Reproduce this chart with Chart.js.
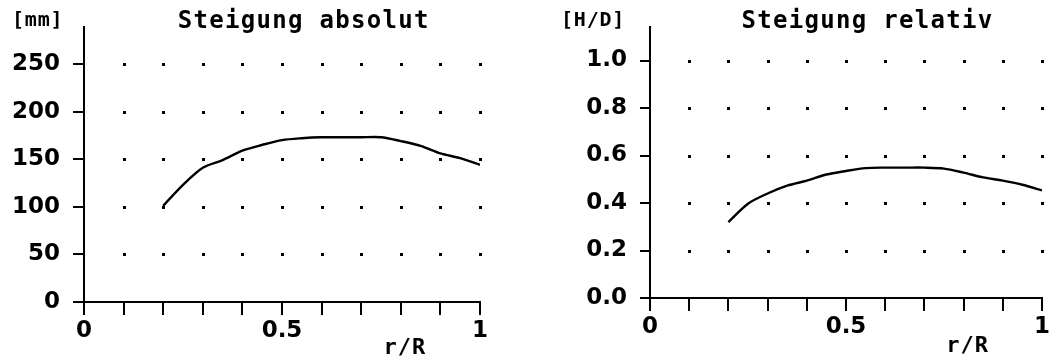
<!DOCTYPE html>
<html>
<head>
<meta charset="utf-8">
<script src="https://cdn.jsdelivr.net/npm/chart.js@4.4.1/dist/chart.umd.min.js"></script>
<style>
    body { margin: 0; background: #fff; }
    .box { position: absolute; top: 0; height: 358px; }
    #leftBox { left: 0; width: 528px; }
    #rightBox { left: 528px; width: 529px; }
</style>
</head>
<body>
<div class="box" id="leftBox"><canvas id="absChart"></canvas></div>
<div class="box" id="rightBox"><canvas id="relChart"></canvas></div>
<script>
// radius positions r/R
const radiusPos = [0.2, 0.25, 0.3, 0.35, 0.4, 0.45, 0.5, 0.55, 0.6, 0.65, 0.7, 0.75, 0.8, 0.85, 0.9, 0.95, 1.0];
// pitch absolute [mm]
const pitchAbs = [101, 123, 141, 149, 159, 165, 170, 172, 173, 173, 173, 173, 169, 164, 156, 151, 144];
// pitch relative [H/D]
const pitchRel = [0.32, 0.397, 0.44, 0.473, 0.494, 0.52, 0.535, 0.547, 0.549, 0.549, 0.549, 0.545, 0.528, 0.508, 0.494, 0.477, 0.453];

const xLabels = { '0': '0', '0.5': '0.5', '1': '1' };

const tickFont = { family: 'DejaVu Sans', weight: 'bold', size: 23 };

// dotted grid at tick crossings
const dotGrid = {
    id: 'dotGrid',
    beforeDatasetsDraw(chart) {
        const ctx = chart.ctx;
        const xs = chart.scales.x, ys = chart.scales.y;
        ctx.save();
        ctx.fillStyle = '#000';
        xs.ticks.forEach(function(tx) {
            if (tx.value <= 0.001) return;
            ys.ticks.forEach(function(ty) {
                if (ty.value <= 0.001) return;
                const px = xs.getPixelForValue(tx.value);
                const py = ys.getPixelForValue(ty.value);
                ctx.fillRect(Math.round(px) - 1, Math.round(py) - 1, 3, 3);
            });
        });
        ctx.restore();
    }
};

// title, unit and axis label texts
const labelTexts = {
    id: 'labelTexts',
    afterDraw(chart, args, opts) {
        const ctx = chart.ctx;
        const area = chart.chartArea;
        ctx.save();
        ctx.fillStyle = '#000';
        ctx.textBaseline = 'alphabetic';

        ctx.font = 'bold 24px "DejaVu Sans Mono"';
        ctx.letterSpacing = '1.3px';
        ctx.textAlign = 'center';
        ctx.fillText(opts.title, area.left + 0.555 * (area.right - area.left), 28);

        ctx.font = 'bold 20px "DejaVu Sans Mono"';
        ctx.letterSpacing = '0.8px';
        ctx.textAlign = 'left';
        ctx.fillText(opts.unit, opts.unitX, 26);

        ctx.font = 'bold 22px "DejaVu Sans Mono"';
        ctx.letterSpacing = '1px';
        ctx.textAlign = 'center';
        ctx.fillText('r/R', chart.scales.x.getPixelForValue(0.81), opts.axisY);
        ctx.restore();
    }
};

function makeChart(canvasId, values, cfg) {
    const ctx = document.getElementById(canvasId).getContext('2d');
    return new Chart(ctx, {
        type: 'line',
        data: {
            datasets: [{
                data: radiusPos.map((r, i) => ({ x: r, y: values[i] })),
                borderColor: '#000',
                borderWidth: 2.4,
                pointRadius: 0,
                tension: 0.3,
                fill: false
            }]
        },
        options: {
            responsive: true,
            maintainAspectRatio: false,
            animation: false,
            layout: { padding: { left: 0, right: cfg.padRight, top: cfg.padTop, bottom: 0 } },
            plugins: {
                legend: { display: false },
                tooltip: { enabled: false },
                labelTexts: { title: cfg.title, unit: cfg.unit, unitX: cfg.unitX, axisY: cfg.axisY }
            },
            scales: {
                x: {
                    type: 'linear',
                    min: 0,
                    max: 1,
                    afterFit: function(scale) { scale.height = cfg.xHeight; },
                    border: { display: true, color: '#000', width: 2 },
                    grid: { drawOnChartArea: false, drawTicks: true, tickLength: 13, color: '#000', lineWidth: 2 },
                    ticks: {
                        stepSize: 0.1,
                        maxRotation: 0,
                        autoSkip: false,
                        color: '#000',
                        font: tickFont,
                        padding: 2,
                        callback: function(value) {
                            const key = String(Math.round(value * 10) / 10);
                            return xLabels[key] || '';
                        }
                    }
                },
                y: {
                    type: 'linear',
                    min: 0,
                    max: cfg.yMax,
                    afterFit: function(scale) { scale.width = cfg.yWidth; },
                    afterBuildTicks: function(scale) {
                        scale.ticks = scale.ticks.filter(t => t.value <= cfg.yTop + 1e-6);
                    },
                    border: { display: true, color: '#000', width: 2 },
                    grid: { drawOnChartArea: false, drawTicks: true, tickLength: cfg.yTickLen, color: '#000', lineWidth: 2 },
                    ticks: {
                        stepSize: cfg.yStep,
                        color: '#000',
                        font: tickFont,
                        padding: 13,
                        callback: cfg.yFormat
                    }
                }
            }
        },
        plugins: [dotGrid, labelTexts]
    });
}

makeChart('absChart', pitchAbs, {
    title: 'Steigung absolut',
    unit: '[mm]',
    unitX: 12,
    axisY: 354,
    padRight: 48,
    padTop: 20,
    xHeight: 56,
    yWidth: 84,
    yMax: 289,
    yTop: 250,
    yStep: 50,
    yTickLen: 11,
    yFormat: function(value) { return String(value); }
});

makeChart('relChart', pitchRel, {
    title: 'Steigung relativ',
    unit: '[H/D]',
    unitX: 33,
    axisY: 352,
    padRight: 15,
    padTop: 22,
    xHeight: 60,
    yWidth: 122,
    yMax: 1.142,
    yTop: 1.0,
    yStep: 0.2,
    yTickLen: 10,
    yFormat: function(value) { return value.toFixed(1); }
});
</script>
</body>
</html>
